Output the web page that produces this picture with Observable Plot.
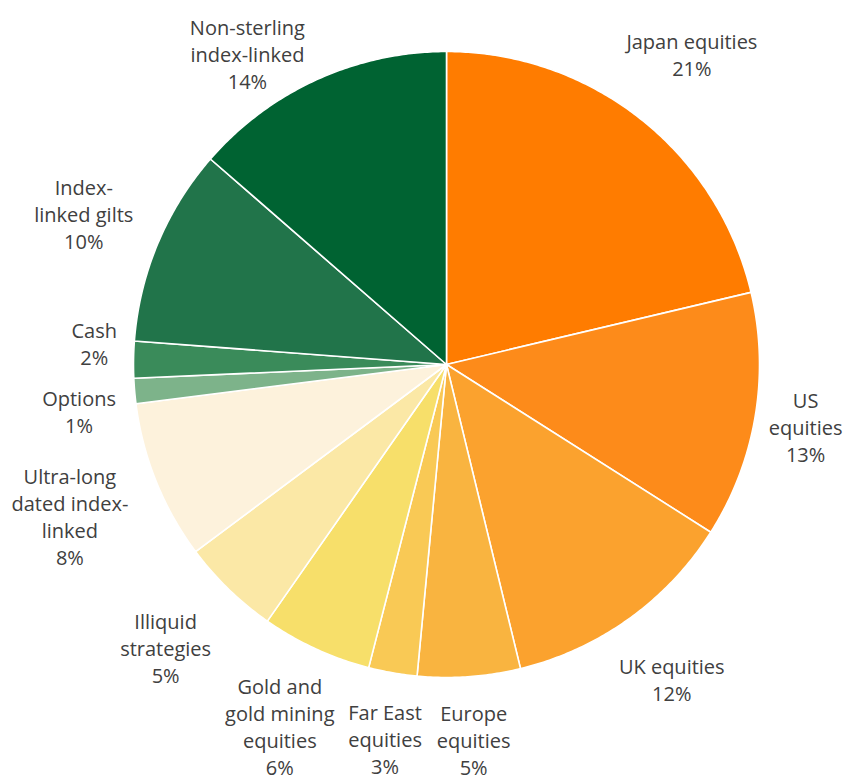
<!DOCTYPE html>
<html>
<head>
<meta charset="utf-8">
<script src="https://cdn.jsdelivr.net/npm/d3@7"></script>
<script src="https://cdn.jsdelivr.net/npm/@observablehq/plot@0.6"></script>
<style>
  html, body { margin: 0; padding: 0; background: #ffffff; }
  #chart { width: 844px; height: 780px; }
</style>
</head>
<body>
<div id="chart"></div>
<script>
// Categories, clockwise from 12 o'clock
const categories = [
  "Japan equities", "US equities", "UK equities", "Europe equities",
  "Far East equities", "Gold and gold mining equities", "Illiquid strategies",
  "Ultra-long dated index-linked", "Options", "Cash",
  "Index-linked gilts", "Non-sterling index-linked"
];
// Shares (%)
const shares = [21.3, 12.7, 12.2, 5.3, 2.5, 5.7, 5.1, 8.2, 1.3, 1.9, 10.2, 13.6];
// Label texts as printed
const labelTexts = [
  "Japan equities\n21%", "US\nequities\n13%", "UK equities\n12%", "Europe\nequities\n5%",
  "Far East\nequities\n3%", "Gold and\ngold mining\nequities\n6%", "Illiquid\nstrategies\n5%",
  "Ultra-long\ndated index-\nlinked\n8%", "Options\n1%", "Cash\n2%",
  "Index-\nlinked gilts\n10%", "Non-sterling\nindex-linked\n14%"
];
const colors = [
  "#FF7C00", "#FD8B1A", "#FBA22E", "#F9B440", "#F9C955", "#F7DF6A",
  "#FBE8A6", "#FDF2DC", "#7DB38A", "#3A8B5A", "#21744A", "#006332"
];

const W = 844, H = 780;
const CX = 446, CY = 364, R = 313;
const FS = 20, LH = 27;

const total = d3.sum(shares);
let acc = 0;
const slices = categories.map((name, i) => {
  const a0 = acc / total * 2 * Math.PI;
  acc += shares[i];
  const a1 = acc / total * 2 * Math.PI;
  return {name, a0, a1, text: labelTexts[i]};
});

// polygon points for each slice (angles clockwise from top, y up)
const pts = [];
for (const s of slices) {
  pts.push({name: s.name, x: 0, y: 0});
  const n = Math.max(2, Math.ceil((s.a1 - s.a0) / (Math.PI / 360)));
  for (let k = 0; k <= n; k++) {
    const a = s.a0 + (s.a1 - s.a0) * k / n;
    pts.push({name: s.name, x: R * Math.sin(a), y: R * Math.cos(a)});
  }
  pts.push({name: s.name, x: 0, y: 0});
}

// ---- label layout: outside end, with simple collision handling ----
const ctx = document.createElement("canvas").getContext("2d");
ctx.font = `${FS}px "Open Sans"`;
const pad = 12, gap = 14, hgap = 14, RO = R + pad, boxPadX = 4, boxPadY = 8;
const labels = slices.map(s => {
  const m = (s.a0 + s.a1) / 2;
  const lines = s.text.split("\n");
  const widths = lines.map(l => ctx.measureText(l).width);
  const w = d3.max(widths);
  const h = lines.length * LH;
  const sx = Math.sin(m), sy = Math.cos(m);
  const ext = Math.abs(sx) * (w / 2 + boxPadX) + Math.abs(sy) * (h / 2 + boxPadY);
  const r = RO + ext;
  return {text: s.text, widths, w, h, x: r * sx, y: r * sy, side: Math.sign(sx) || 1, moved: false};
});
const topLimit = CY - 12, bottomLimit = CY - H + 1;
function clamp(l) {
  if (l.y + l.h / 2 > topLimit) { l.y = topLimit - l.h / 2; l.moved = true; }
  if (l.y - l.h / 2 < bottomLimit) { l.y = bottomLimit + l.h / 2; l.moved = true; }
}
labels.forEach(clamp);
for (let it = 0; it < 60; it++) {
  let any = false;
  for (let i = 0; i < labels.length; i++) {
    for (let j = i + 1; j < labels.length; j++) {
      const a = labels[i], b = labels[j];
      const dx = a.x - b.x, dy = a.y - b.y;
      const needX = (a.w + b.w) / 2 + hgap, needY = (a.h + b.h) / 2 + gap;
      const px = needX - Math.abs(dx), py = needY - Math.abs(dy);
      if (px > 0.5 && py > 0.5) {
        any = true;
        if (px < py) {
          const s = dx >= 0 ? 1 : -1;
          a.x += s * px / 2; b.x -= s * px / 2;
        } else {
          const s = dy >= 0 ? 1 : -1;
          a.y += s * py / 2; b.y -= s * py / 2;
          a.moved = b.moved = true;
        }
      }
    }
  }
  labels.forEach(clamp);
  if (!any) break;
}
// re-fit vertically moved labels so each text line clears the pie (only ever outward)
for (const l of labels) {
  if (!l.moved) continue;
  const n = l.widths.length;
  let need = 0;
  l.widths.forEach((wi, k) => {
    const yc = l.y + ((n - 1) / 2 - k) * LH;
    const y0 = yc - LH / 2, y1 = yc + LH / 2;
    const yNear = (y0 <= 0 && y1 >= 0) ? 0 : Math.min(Math.abs(y0), Math.abs(y1));
    if (yNear < RO) need = Math.max(need, Math.sqrt(RO * RO - yNear * yNear) + wi / 2);
  });
  if (need > Math.abs(l.x)) l.x = l.side * need;
}
// keep every label inside the picture horizontally
for (const l of labels) {
  l.x = Math.min(l.x, W - CX - 2 - l.w / 2);
  l.x = Math.max(l.x, -CX + 2 + l.w / 2);
}

const chart = Plot.plot({
  width: W,
  height: H,
  margin: 0,
  x: {domain: [-CX, W - CX], axis: null},
  y: {domain: [CY - H, CY], axis: null},
  color: {domain: categories, range: colors},
  style: {fontFamily: '"Open Sans", sans-serif', background: "#ffffff"},
  marks: [
    Plot.line(pts, {
      x: "x", y: "y", z: "name", fill: "name",
      stroke: "#ffffff", strokeWidth: 1.6, strokeLinejoin: "round", curve: "linear"
    }),
    Plot.text(labels, {
      x: "x", y: "y", text: "text",
      fontSize: FS, lineHeight: LH / FS, fill: "#404040",
      textAnchor: "middle", lineAnchor: "middle"
    })
  ]
});
document.getElementById("chart").appendChild(chart);
</script>
</body>
</html>
